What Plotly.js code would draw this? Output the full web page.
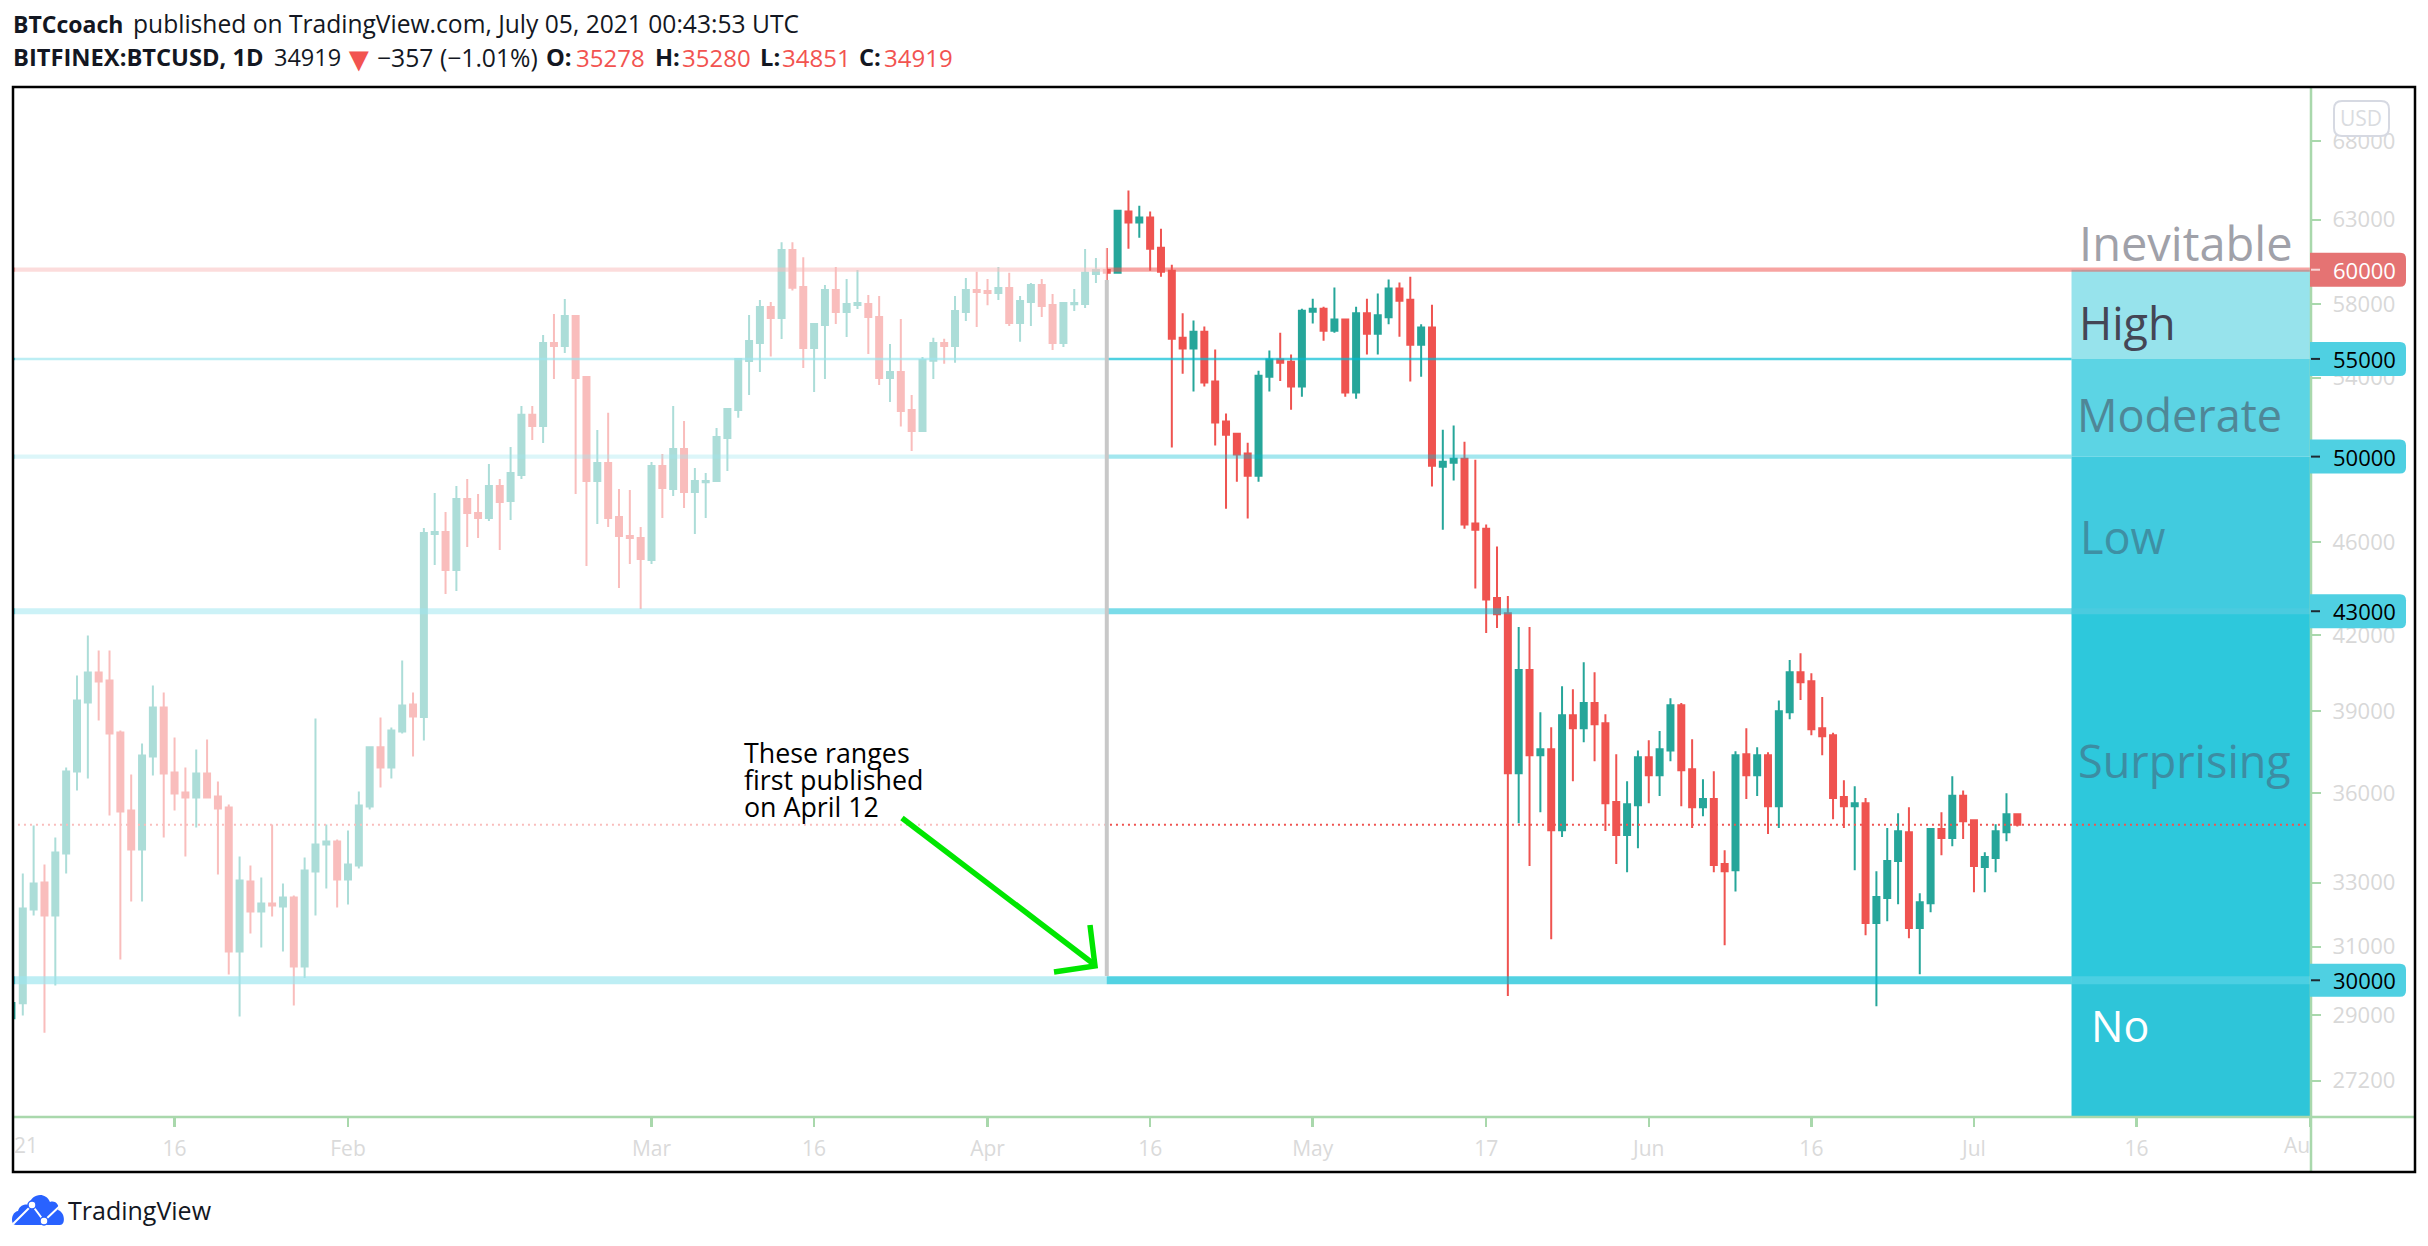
<!DOCTYPE html>
<html><head><meta charset="utf-8">
<script src="https://cdn.plot.ly/plotly-3.0.1.min.js"></script>
<style>html,body{margin:0;padding:0;background:#fff;overflow:hidden}#c{width:2428px;height:1246px}</style>
</head><body><div id="c"></div>
<script>
// [day, open, high, low, close]
const jan2021 = [[1,28908,29400,28850,29344],[2,29337,33292,28985,32176],[3,32145,34888,31957,32968],[4,32999,33584,28505,31957],[5,31957,34484,29848,33982],[6,33950,36921,33292,36779],[7,36779,40389,36103,39414],[8,39338,41994,36530,40507],[9,40507,41386,38654,40154],[10,40193,41386,35233,38165],[11,38202,38275,30612,35372],[12,35406,36672,32394,34082],[13,34082,37798,32394,37357],[14,37320,39997,36636,39148],[15,39148,39723,34484,36707],[16,36743,38018,35406,35996],[17,36032,36921,33849,35855],[18,35855,37577,34819,36707],[19,36707,37945,35820,35855],[20,35890,36423,33260,35475],[21,35510,35613,30168,30854],[22,30854,33849,28961,33066],[23,33033,33552,31399,32083],[24,32083,33163,30976,32332],[25,32332,34923,31926,32270],[26,32239,32968,30854,32519],[27,32519,32583,29271,30403],[28,30403,33816,30065,33390],[29,33358,38730,31957,34250],[30,34250,34923,32809,34350],[31,34350,34417,32207,33098]];
const feb2021 = [[1,33098,34717,32301,33584],[2,33552,36067,33454,35579],[3,35544,37680,35440,37654],[4,37654,38768,36210,36921],[5,36921,38388,36530,38275],[6,38238,40980,38165,39225],[7,39263,39723,37320,38806],[8,38784,46638,37909,46408],[9,46362,48259,44983,46454],[10,46454,47370,43730,44761],[11,44761,48590,43858,47974],[12,47974,48921,45781,47325],[13,47325,48211,46180,47096],[14,47096,49641,46958,48590],[15,48590,48921,45648,47832],[16,47880,50474,47004,49206],[17,49111,52529,48921,52080],[18,52080,52529,50816,51520],[19,51520,56296,50669,55861],[20,55861,57466,53934,55699],[21,55699,58308,55321,57354],[22,57354,57410,48211,53986],[23,54039,54091,44939,48827],[24,48827,51316,46821,49690],[25,49690,52182,46684,47096],[26,47142,48447,43987,46270],[27,46270,48400,45027,46180],[28,46180,46684,43093,45249]];
const mar2021 = [[1,45205,49739,45027,49544],[2,49544,50131,47096,48495],[3,48447,52529,48117,50376],[4,50376,51774,47555,48306],[5,48306,49446,46362,48827],[6,48764,49206,47096,48827],[7,48827,51418,48800,50963],[8,50914,52427,49300,52377],[9,52326,55034,51928,55000],[10,54890,57410,53099,55969],[11,55861,58251,54300,57856],[12,57856,58137,55124,57242],[13,57242,61622,56077,61163],[14,61163,61622,58800,58956],[15,58997,60731,54521,55587],[16,55587,56950,53255,56908],[17,56853,59111,53933,58826],[18,58826,60157,56908,57577],[19,57577,59461,56191,58031],[20,57974,59977,57746,58088],[21,58031,58541,55263,57293],[22,57293,58484,53616,53987],[23,53987,55807,52741,54307],[24,54307,57179,51486,52276],[25,52326,53100,50273,51269],[26,51269,55100,51220,54943],[27,54907,56148,53933,55861],[28,55861,56093,54735,55697],[29,55697,58484,54788,57634],[30,57577,59520,57073,58826],[31,58826,59874,56742,58712]];
const apr2021 = [[1,58769,59461,57955,58655],[2,58655,60157,58255,58940],[3,58940,59817,56797,56964],[4,56964,58484,55926,58198],[5,58141,59225,56797,59111],[6,59111,59461,57293,57913],[7,57974,58598,55477,55861],[8,55861,58141,55642,58088],[9,58011,58883,57634,58088],[10,58031,61224,57802,59817],[11,59747,60692,59225,59980],[12,59980,61284,59390,59817],[13,59827,63560,59770,63560],[14,63500,64816,61247,62825],[15,62825,63868,61904,63137],[16,63137,63500,59942,61247],[17,61306,62454,59597,59885],[18,59942,60297,50442,56096],[19,56150,57500,54206,55560],[20,55560,57097,53274,56482],[21,56482,56761,53534,53743],[22,53796,55502,50540,51689],[23,51740,52143,47525,51080],[24,51130,51182,48795,50098],[25,50147,50686,47066,49080],[26,49080,54370,48795,54109],[27,54055,55448,53274,54962],[28,54962,56427,53830,54800],[29,54854,55232,52344,53534],[30,53534,57764,53012,57652]];
const may2021 = [[1,57596,58330,56930,57764],[2,57764,57875,55988,56538],[3,56538,58963,56427,57151],[4,57151,57200,53012,53222],[5,53222,57875,52908,57500],[6,57500,58330,55232,56370],[7,56370,58618,55232,57390],[8,57278,59424,56888,58906],[9,58906,59251,56204,58214],[10,58272,59597,53796,55772],[11,55772,56888,54057,56706],[12,56706,57987,48568,49560],[13,49511,51334,46562,49755],[14,49707,51537,48843,49902],[15,49902,50735,46608,46791],[16,46838,49853,43961,46562],[17,46608,46791,42100,43500],[18,43555,45800,42301,42876],[19,42918,43640,29540,36716],[20,36716,42342,34969,40600],[21,40600,42342,33534,37365],[22,37365,38965,35343,37583],[23,37583,38402,31227,34732],[24,34732,39968,34497,38852],[25,38852,39852,36428,38365],[26,38365,40908,37842,39313],[27,39313,40518,37148,38515],[28,38552,38889,34700,35659],[29,35694,37401,33600,34564],[30,34564,36428,33336,35624],[31,35589,37542,34126,37290]];
const jun2021 = [[1,37290,37916,35659,36643],[2,36643,38254,35904,37583],[3,37542,39505,37148,39236],[4,39236,39313,35553,36825],[5,36861,37954,34800,35519],[6,35519,36498,35206,35799],[7,35799,36788,33336,33567],[8,33600,34060,31043,33369],[9,33402,37510,32713,37365],[10,37401,38365,35799,36643],[11,36643,37656,35904,37365],[12,37365,37474,34598,35553],[13,35553,39416,34800,39000],[14,38965,40999,38700,40518],[15,40518,41278,39430,40123],[16,40162,40478,38103,38328],[17,38365,39545,37365,38065],[18,38103,38190,35105,35834],[19,35869,36460,34800,35553],[20,35553,36252,33402,35659],[21,35659,35834,31350,31720],[22,31720,33369,29252,32537],[23,32505,34800,31780,33699],[24,33699,35308,32310,34698],[25,34664,35519,31258,31567],[26,31567,32660,30180,32375],[27,32342,34800,32056,34767],[28,34767,35343,33895,34463],[29,34463,36607,34192,35916],[30,35916,36100,34429,35037]];
const jul2021 = [[1,35072,35100,32692,33534],[2,33501,33994,32692,33831],[3,33798,34936,33336,34698],[4,34664,36006,34361,35274],[5,35278,35280,34851,34919]];

const rangeLevels = [30000, 43000, 50000, 55000, 60000];
const lastPrice = 34919;
const rangeNames = ['Inevitable','High','Moderate','Low','Surprising','No'];
const yTickValues = [68000,63000,58000,54000,46000,42000,39000,36000,33000,31000,29000,27200];
const xTickDates = ['2021-01-16','2021-02-01','2021-03-01','2021-03-16','2021-04-01','2021-04-16','2021-05-01','2021-05-17','2021-06-01','2021-06-16','2021-07-01','2021-07-16','2021-08-01'];
const xTickLabels = ['16','Feb','Mar','16','Apr','16','May','17','Jun','16','Jul','16',''];
const noteLines = ['These ranges','first published','on April 12'];

const months = [['01',jan2021],['02',feb2021],['03',mar2021],['04',apr2021],['05',may2021],['06',jun2021],['07',jul2021]];
const dates=[],open=[],high=[],low=[],close=[];
months.forEach(([m,rows])=>rows.forEach(r=>{dates.push('2021-'+m+'-'+String(r[0]).padStart(2,'0'));open.push(r[1]);high.push(r[2]);low.push(r[3]);close.push(r[4]);}));

const L=13,R=2311,T=88,B=1117,W=2428,H=1246;
const px=x=>(x-L)/(R-L), py=y=>1-(y-T)/(B-T);
const rngY=[Math.log10(26254),Math.log10(71637)];
const grn='#A9D8AC', dark='#131722', sans='"Open Sans", sans-serif';
const shapes=[];
const ln=(x0,y0,x1,y1,c,w,extra)=>shapes.push(Object.assign({type:'line',xref:'paper',yref:'paper',x0:px(x0),y0:py(y0),x1:px(x1),y1:py(y1),line:{color:c,width:w}},extra||{}));
const pathPx=(cmds)=>cmds.map(c=>typeof c==='string'?c:(px(c[0]).toFixed(6)+','+py(c[1]).toFixed(6))).join(' ');

// zones on the right
const zoneStart='2021-07-10', zoneEnd='2021-08-01 03:00';
const zoneFills=['#97E3EC','#5CD4E4','#41CBDF','#2DC8DC','#2EC5D9'];
const zoneEdges=[60000,55000,50000,43000,30000,26254];
zoneFills.forEach((c,i)=>shapes.push({type:'rect',xref:'x',yref:'y',x0:zoneStart,x1:zoneEnd,y0:zoneEdges[i+1],y1:zoneEdges[i],fillcolor:c,line:{width:0}}));
// level lines
const xStart='2021-01-01', cyan=a=>'rgba(0,188,212,'+a+')';
const hl=(v,x1,c,w,extra)=>shapes.push(Object.assign({type:'line',xref:'x',yref:'y',x0:xStart,x1:x1,y0:v,y1:v,line:{color:c,width:w}},extra||{}));
hl(30000,zoneStart,cyan(.68),8);
hl(43000,zoneStart,cyan(.52),6);
hl(50000,zoneStart,cyan(.36),4.3);
hl(55000,zoneStart,cyan(.69),2.5);
hl(60000,zoneEnd,'rgba(239,83,80,.53)',4.3);
shapes.push({type:'line',xref:'x',yref:'y',x0:zoneStart,x1:zoneEnd,y0:30000,y1:30000,line:{color:'#4BCFE2',width:8}});
shapes.push({type:'line',xref:'x',yref:'y',x0:zoneStart,x1:zoneEnd,y0:43000,y1:43000,line:{color:'#4ACBDF',width:6}});
hl(lastPrice,zoneEnd,'#EF5350',2,{});shapes[shapes.length-1].line.dash='2px,4px';
// fade over everything before the publishing date
shapes.push({type:'rect',xref:'x',yref:'paper',x0:'2021-01-01 07:00',x1:'2021-04-12',y0:0,y1:1,fillcolor:'rgba(255,255,255,.62)',line:{width:0}});
shapes.push({type:'line',xref:'x',yref:'paper',x0:'2021-04-12',x1:'2021-04-12',y0:py(280),y1:py(976),line:{color:'#C8C8C8',width:4}});
// axes lines
ln(R,87,R,1172,grn,2.5);
ln(L,B,2415,B,grn,2.5);
// price tags
rangeLevels.forEach(v=>{
  const c=v===60000?'#E57373':'#4FD0E2', h=v===30000?16.5:17, r=6, w=96;
  shapes.push({type:'path',xref:'paper',yref:'y',xsizemode:'pixel',ysizemode:'pixel',xanchor:px(2310),yanchor:v,
    path:`M 0,${-h} L ${w-r},${-h} Q ${w},${-h} ${w},${-h+r} L ${w},${h-r} Q ${w},${h} ${w-r},${h} L 0,${h} Z`,fillcolor:c,line:{width:0}});
  shapes.push({type:'line',xref:'paper',yref:'y',x0:px(2311),x1:px(2320),y0:v,y1:v,line:{color:v===60000?'#F8D7D7':'#1d2a33',width:2}});
});
// USD box
shapes.push({type:'path',xref:'paper',yref:'paper',
  path:pathPx(['M',[2342,101],'L',[2381,101],'Q',[2389,101],[2389,109],'L',[2389,128],'Q',[2389,136],[2381,136],'L',[2342,136],'Q',[2334,136],[2334,128],'L',[2334,109],'Q',[2334,101],[2342,101],'Z']),
  fillcolor:'#fff',line:{color:'#D6D9E2',width:2}});
// arrow
const arrowCol='#00E600';
shapes.push({type:'line',xref:'paper',yref:'paper',x0:px(902),y0:py(818),x1:px(1095),y1:py(965),line:{color:arrowCol,width:5.5}});
shapes.push({type:'path',xref:'paper',yref:'paper',path:pathPx(['M',[1090,925],'L',[1095,966],'L',[1054,972]]),line:{color:arrowCol,width:5.5},fillcolor:'rgba(0,0,0,0)'});
// frame
shapes.push({type:'rect',xref:'paper',yref:'paper',x0:px(13),x1:px(2415),y0:py(87),y1:py(1172),line:{color:'#000',width:2.5},fillcolor:'rgba(0,0,0,0)'});
// logo
shapes.push({type:'path',xref:'paper',yref:'paper',fillcolor:'#2962FF',line:{width:0},
  path:pathPx(['M',[16,1225],'C',[10,1225],[11,1212],[18,1211],'C',[20,1204],[27,1204],[29,1205],'C',[31,1194],[45,1191],[50,1202],'C',[56,1200],[60,1206],[58,1210],'C',[65,1212],[66,1225],[60,1225],'Z'])});
shapes.push({type:'path',xref:'paper',yref:'paper',fillcolor:'rgba(0,0,0,0)',line:{color:'#fff',width:2},
  path:pathPx(['M',[13,1224],'L',[32,1205],'L',[44,1221],'L',[62,1204]])});
shapes.push({type:'circle',xref:'paper',yref:'paper',x0:px(28),x1:px(36),y0:py(1201),y1:py(1209),fillcolor:'#fff',line:{color:'#2962FF',width:1.5}});
shapes.push({type:'circle',xref:'paper',yref:'paper',x0:px(40),x1:px(48),y0:py(1217),y1:py(1225),fillcolor:'#fff',line:{color:'#2962FF',width:1.5}});

// text
const ann=[];
const txt=(text,x,y,size,color,anchor,extra)=>ann.push(Object.assign({xref:'paper',yref:'paper',x:px(x),y:py(y),text:text,showarrow:false,xanchor:anchor||'left',yanchor:'middle',align:'left',borderpad:0,font:{family:sans,size:size,color:color}},extra||{}));
const red='#F25350';
txt('<b>BTCcoach</b>',12,24,23,dark);
txt('published on TradingView.com, July 05, 2021 00:43:53 UTC',132,24,24.6,dark);
txt('<b>BITFINEX:BTCUSD, 1D</b>',12,57,23.7,dark);
txt('34919',273,57,23.5,dark);
txt('▼',358.7,58,34,red,'center');
txt('−357 (−1.01%)',376,57,24.7,dark);
[['O:','35278',545,575],['H:','35280',654,681],['L:','34851',759,781],['C:','34919',858,883]].forEach(g=>{
  txt('<b>'+g[0]+'</b>',g[2],57,23.7,dark);
  txt(g[1],g[3],57,24,red);
});
txt('TradingView',67,1210,25,dark);
txt('USD',2361.5,118,21,'#DADCE0','center');
txt('21',13,1145,21,'#DADADA');
txt('Au',2311,1145,21,'#DADADA','right');
const nameCols=['#A0A1A9','#444655','#4F8797','#3E90A4','#3C8DA3','#FFFFFF'];
const nameX=[2078,2078,2076,2079,2077,2090];
const nameY=[243,323,414,536,760,1025];
const nameSize=[47,45,45,45,45,43];
rangeNames.forEach((n,i)=>txt(n,nameX[i],nameY[i],nameSize[i],nameCols[i]));
noteLines.forEach((n,i)=>txt(n,743,[752,779,806][i],26.8,'#000'));
rangeLevels.forEach(v=>ann.push({xref:'paper',yref:'y',x:px(2331),y:Math.log10(v),text:String(v),showarrow:false,xanchor:'left',yanchor:'middle',font:{family:sans,size:22,color:v===60000?'#fff':'#000'}}));

const trace={type:'candlestick',x:dates,open:open,high:high,low:low,close:close,
  increasing:{line:{color:'#26A69A',width:2},fillcolor:'#26A69A'},
  decreasing:{line:{color:'#EF5350',width:2},fillcolor:'#EF5350'},whiskerwidth:0,hoverinfo:'skip'};
const layout={width:W,height:H,margin:{l:L,r:W-R,t:T,b:H-B,pad:0},paper_bgcolor:'#fff',plot_bgcolor:'#fff',showlegend:false,boxgap:.447,boxgroupgap:0,
  xaxis:{type:'date',range:['2021-01-01 02:18','2021-08-01 02:13'],rangeslider:{visible:false},showgrid:false,zeroline:false,showline:false,
    tickmode:'array',tickvals:xTickDates,ticktext:xTickLabels,ticks:'outside',ticklen:9,tickwidth:2.5,tickcolor:grn,ticklabelstandoff:4,tickfont:{family:sans,size:21,color:'#DADADA'}},
  yaxis:{type:'log',side:'right',range:rngY,showgrid:false,zeroline:false,showline:false,tickmode:'array',tickvals:yTickValues,ticktext:yTickValues.map(String),
    ticks:'outside',ticklen:9,tickwidth:2,tickcolor:grn,ticklabelstandoff:7,tickfont:{family:sans,size:22,color:'#D8D8D8'}},
  shapes:shapes,annotations:ann};
Plotly.newPlot('c',[trace],layout,{displayModeBar:false,staticPlot:true});
</script></body></html>
